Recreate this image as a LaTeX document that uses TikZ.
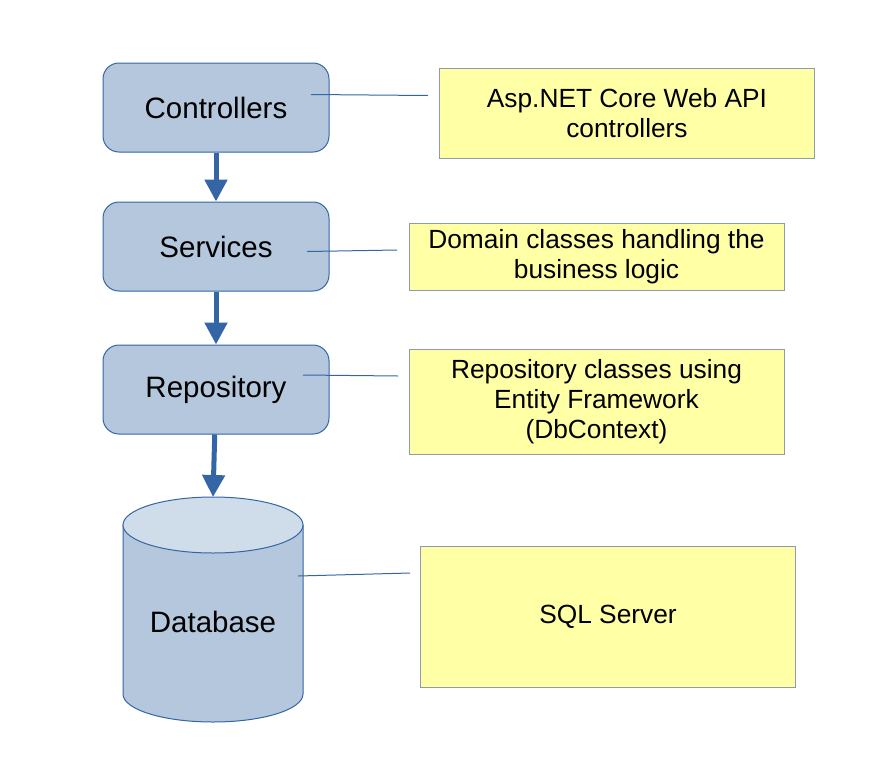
\documentclass[tikz,border=0pt]{standalone}
\usepackage{fontspec}
\setmainfont{Liberation Sans}
\usetikzlibrary{arrows.meta}
\definecolor{layerblue}{HTML}{B4C7DC}
\definecolor{layerline}{HTML}{3465A4}
\definecolor{dbtop}{HTML}{CFDCE9}
\definecolor{notefill}{HTML}{FFFFA6}
\definecolor{noteline}{HTML}{8C9BAE}
\begin{document}
\begin{tikzpicture}[x=1pt,y=-1pt,
    layer/.style={draw=layerline, line width=1pt, fill=layerblue, rounded corners=16pt, minimum width=226pt, minimum height=89pt, font=\fontsize{29.5}{34}\selectfont},
    note/.style={draw=noteline, line width=1pt, fill=notefill, align=center, minimum width=375pt, font=\fontsize{26.3}{30}\selectfont},
    flow/.style={layerline, line width=5pt, -{Triangle[width=22pt,length=22pt]}},
    link/.style={layerline, line width=1pt}]
    \useasboundingbox (0,0) rectangle (892,780);
    % layers
    \node[layer] (ctrl) at (216,107.5) {Controllers};
    \node[layer] (svc) at (216,246.5) {Services};
    \node[layer] (repo) at (216,389.5) {Repository};
    % database cylinder
    \draw[layerline, line width=1pt, fill=layerblue] (123,525) -- (123,694) .. controls (123,709.5) and (163.3,722) .. (213,722) .. controls (262.7,722) and (303,709.5) .. (303,694) -- (303,525) -- cycle;
    \draw[layerline, line width=1pt, fill=dbtop] (213,525) ellipse [x radius=90pt, y radius=28pt];
    \node[font=\fontsize{29.5}{34}\selectfont] (db) at (213,622) {Database};
    \coordinate (dbtop) at (213,497);
    % notes
    \node[note, minimum height=90pt] (n1) at (627,113) {Asp.NET Core Web API\\controllers};
    \node[note, minimum height=67pt] (n2) at (596.5,257) {Domain classes handling the\\business logic};
    \node[note, minimum height=105pt] (n3) at (596.5,401.5) {Repository classes using\\Entity Framework\\(DbContext)};
    \node[note, minimum height=141pt] (n4) at (608,617) {SQL Server};
    % arrows
    \foreach \a/\b in {ctrl/svc, svc/repo}
    \draw[flow] (\a) -- (\b);
    \draw[flow] (repo) -- (dbtop);
    % links to notes
    \coordinate (ctrl-a) at (311,94.5);
    \coordinate (n1-a) at (428,95.5);
    \coordinate (svc-a) at (307,251.5);
    \coordinate (n2-a) at (397,250);
    \coordinate (repo-a) at (303,375);
    \coordinate (n3-a) at (398,376);
    \coordinate (db-a) at (298,576);
    \coordinate (n4-a) at (410,573);
    \draw[link] (ctrl-a) -- (n1-a);
    \draw[link] (svc-a) -- (n2-a);
    \draw[link] (repo-a) -- (n3-a);
    \draw[link] (db-a) -- (n4-a);
\end{tikzpicture}
\end{document}
